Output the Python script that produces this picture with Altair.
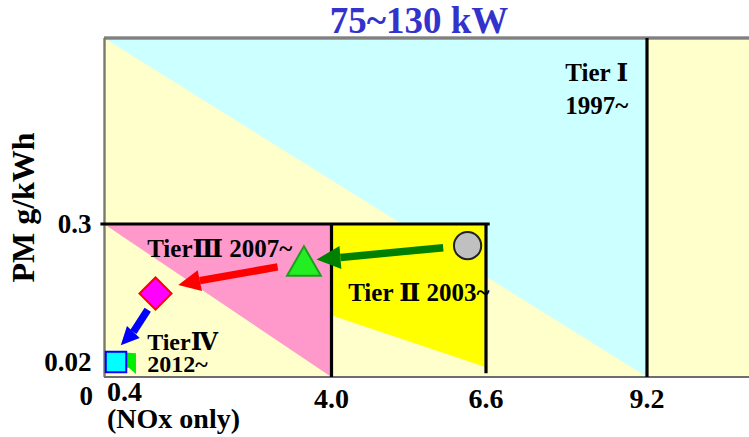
import math
import numpy as np
import pandas as pd
import altair as alt

# ---------------------------------------------------------------
# Axis breakpoints: the NOx and PM axes are drawn piecewise-linear
# ---------------------------------------------------------------
X_BREAKS = [0.0, 0.4, 4.0, 6.6, 9.2, 11.0]
X_PIXELS = [0, 12, 227.5, 382, 543, 645]
Y_BREAKS = [0.0, 0.02, 0.3, 0.54]
Y_PIXELS = [339, 324, 186, 0]

# ---------------- data ----------------
# Regulation regions (NOx from/to, PM lower edge at each end, PM upper edge)
region_names = ["Tier I", "Tier II", "Tier III"]
region_x0 = [0.0, 4.0, 0.0]
region_x1 = [9.2, 6.6, 4.0]
region_lo0 = [0.54, 0.115, 0.3]
region_lo1 = [0.0, 0.013, 0.0]
region_hi = [0.54, 0.3, 0.3]

# Limit lines
line_x0 = [-0.12, 4.0, 6.6, 9.2]
line_x1 = [6.66, 4.0, 6.6, 9.2]
line_y0 = [0.3, 0.0, 0.005, 0.0]
line_y1 = [0.3, 0.3, 0.3, 0.54]

# Emission levels
marker_names = ["tier4_nox", "tier4", "tier3", "tier2", "tier1"]
marker_nox = [0.65, 0.4, 1.06, 3.54, 6.29]
marker_pm = [0.02, 0.02, 0.159, 0.225, 0.256]

# Arrows between levels: tail, neck (head base) and tip
arrow_names = ["tier1_to_2", "tier2_to_3", "tier3_to_4"]
arrow_tail_x = [5.88, 3.10, 0.93]
arrow_tail_y = [0.252, 0.213, 0.126]
arrow_neck_x = [4.15, 1.80, 0.69]
arrow_neck_y = [0.232, 0.185, 0.081]
arrow_tip_x = [3.75, 1.44, 0.48]
arrow_tip_y = [0.228, 0.176, 0.054]

# Annotations (multi-line blocks use "\n"; position is that of the first line)
note_text = ["Tier \u2160\n 1997~", "Tier\u2162 2007~", "Tier \u2161 2003~", "Tier\u2163\n 2012~"]
note_x = [7.88, 0.92, 4.28, 0.92]
note_y = [0.495, 0.249, 0.16, 0.0586]
note_line_height = [33, 25, 25, 22]

# Tick labels
xtick_values = [0.4, 4.0, 6.6, 9.2]
xtick_labels = ["0.4\n(NOx only)", "4.0", "6.6", "9.2"]
ytick_values = [0.02, 0.3]

title_text = "75~130 kW"
ytitle_text = "PM g/kWh"

# ---------------- styles ----------------
FONT = "Liberation Serif, DejaVu Serif"
region_colors = ["#CCFFFF", "#FFFF00", "#FF99CC"]
marker_shapes = [
    "M-1,-0.87 L0.4,-0.77 L0.4,0.97 L-0.17,0.47 L-1,0.47 Z",
    "square", "diamond", "triangle-up", "circle",
]
marker_sizes = [400, 420, 1024, 1150, 740]
marker_fills = ["#00EE00", "#00FFFF", "#FF00FF", "#22EE22", "#C0C0C0"]
marker_strokes = ["#00EE00", "#0000FF", "#FF0000", "#1E9E1E", "#222222"]
arrow_colors = ["#008000", "#FF0000", "#0000FF"]
HEAD_PATH = "M0,0 L0.48,1 L-0.48,1 Z"

xscale = alt.Scale(domain=X_BREAKS, range=X_PIXELS, nice=False, zero=False)
yscale = alt.Scale(domain=Y_BREAKS, range=Y_PIXELS, nice=False, zero=False)
yaxis = alt.Axis(
    values=ytick_values, format=".2~f", title=ytitle_text,
    ticks=False, domain=False, grid=False,
    labelFont=FONT, labelFontSize=27, labelFontWeight="bold", labelColor="black",
    labelPadding=13, labelBaseline="middle",
    titleFont=FONT, titleFontSize=32, titleFontWeight="bold", titleColor="black",
    titleAngle=270, titleAlign="center", titleBaseline="alphabetic",
    titleX=-71, titleY=169,
)


def X(field):
    return alt.X(field, type="quantitative", scale=xscale, axis=None)


def Y(field):
    return alt.Y(field, type="quantitative", scale=yscale, axis=yaxis)


def px_x(v):
    return float(np.interp(v, X_BREAKS, X_PIXELS))


def px_y(v):
    return float(np.interp(v, Y_BREAKS, Y_PIXELS))


# ---------------- tables ----------------
region_layers = []
for i, name in enumerate(region_names):
    df = pd.DataFrame({
        "nox": [region_x0[i], region_x1[i]],
        "pm_lo": [region_lo0[i], region_lo1[i]],
        "pm_hi": [region_hi[i], region_hi[i]],
    })
    region_layers.append(
        alt.Chart(df).mark_area(color=region_colors[i], opacity=1, interpolate="linear")
        .encode(x=X("nox"), y=Y("pm_lo"), y2="pm_hi")
    )

lines_df = pd.DataFrame({"x0": line_x0, "x1": line_x1, "y0": line_y0, "y1": line_y1})

markers_df = pd.DataFrame({
    "marker": marker_names, "nox": marker_nox, "pm": marker_pm,
    "shape": marker_shapes, "size": marker_sizes,
    "fill": marker_fills, "stroke": marker_strokes,
})

angles, head_sizes = [], []
for i in range(len(arrow_names)):
    dx = px_x(arrow_tip_x[i]) - px_x(arrow_neck_x[i])
    dy = px_y(arrow_tip_y[i]) - px_y(arrow_neck_y[i])
    angles.append((math.degrees(math.atan2(dx, -dy)) + 360) % 360)
    head_sizes.append((2 * math.hypot(dx, dy)) ** 2)

arrows_df = pd.DataFrame({
    "arrow": arrow_names,
    "tail_x": arrow_tail_x, "tail_y": arrow_tail_y,
    "neck_x": arrow_neck_x, "neck_y": arrow_neck_y,
    "tip_x": arrow_tip_x, "tip_y": arrow_tip_y,
    "angle": angles, "head_size": head_sizes,
})
arrow_color = alt.Color("arrow:N", scale=alt.Scale(domain=arrow_names, range=arrow_colors), legend=None)

notes_df = pd.DataFrame({"text": note_text, "nox": note_x, "pm": note_y, "lh": note_line_height})
xticks_df = pd.DataFrame({"value": xtick_values, "label": xtick_labels})

# ---------------- layers ----------------
frame_top = alt.Chart(lines_df).mark_rule(color="#808080", strokeWidth=2.5).encode(
    x=alt.value(0), x2=alt.value(645), y=alt.value(0))
frame_left = alt.Chart(lines_df).mark_rule(color="#7a7a6a", strokeWidth=1.5).encode(
    x=alt.value(0.5), y=alt.value(0), y2=alt.value(339))
frame_bottom = alt.Chart(lines_df).mark_rule(color="#6e6e6e", strokeWidth=2).encode(
    x=alt.value(0), x2=alt.value(645), y=alt.value(339))

limits = alt.Chart(lines_df).mark_rule(color="black", strokeWidth=3.2).encode(
    x=X("x0"), x2="x1", y=Y("y0"), y2="y1")

markers = alt.Chart(markers_df).mark_point(filled=True, opacity=1, strokeWidth=2).encode(
    x=X("nox"), y=Y("pm"),
    shape=alt.Shape("shape:N", scale=None),
    size=alt.Size("size:Q", scale=None),
    fill=alt.Fill("fill:N", scale=None),
    stroke=alt.Stroke("stroke:N", scale=None),
)

shafts = alt.Chart(arrows_df).mark_rule(strokeWidth=7.5, strokeCap="butt").encode(
    x=X("tail_x"), y=Y("tail_y"), x2="neck_x", y2="neck_y", color=arrow_color)

heads = alt.Chart(arrows_df).mark_point(shape=HEAD_PATH, filled=True, opacity=1, strokeWidth=0).encode(
    x=X("tip_x"), y=Y("tip_y"),
    angle=alt.Angle("angle:Q", scale=None),
    size=alt.Size("head_size:Q", scale=None),
    color=arrow_color,
)

text_style = dict(font=FONT, fontWeight="bold", color="black")

note_layers = []
for lh in sorted(set(note_line_height)):
    note_layers.append(
        alt.Chart(notes_df).transform_filter(f"datum.lh == {lh}").mark_text(
            align="left", baseline="middle", fontSize=24 if lh < 25 else 25,
            lineBreak="\n", lineHeight=lh, **text_style
        ).encode(x=X("nox"), y=Y("pm"), text="text:N")
    )

xticks_main = alt.Chart(xticks_df).transform_filter("datum.value > 1").mark_text(
    align="center", baseline="alphabetic", fontSize=28, **text_style
).encode(x=X("value"), y=alt.value(370), text="label:N")

xtick_first = alt.Chart(xticks_df).transform_filter("datum.value < 1").mark_text(
    align="left", baseline="alphabetic", fontSize=28, dx=-9, lineBreak="\n", lineHeight=27, **text_style
).encode(x=X("value"), y=alt.value(363), text="label:N")

origin = alt.Chart(xticks_df).transform_filter("datum.value < 1").mark_text(
    align="right", baseline="alphabetic", fontSize=27, **text_style
).encode(x=alt.value(-11), y=alt.value(367), text=alt.value("0"))

title = alt.Chart(xticks_df).transform_filter("datum.value < 1").mark_text(
    align="center", baseline="alphabetic", fontSize=37, font=FONT, fontWeight="bold", color="#3333CC"
).encode(x=alt.value(315), y=alt.value(-5), text=alt.value(title_text))

chart = alt.layer(
    *region_layers,
    frame_top, frame_left, frame_bottom,
    limits, markers, shafts, heads,
    *note_layers, xticks_main, xtick_first, origin, title,
).properties(
    width=645, height=339,
    padding={"left": 104, "top": 38, "right": 0, "bottom": 60},
    autosize=alt.AutoSizeParams(type="none"),
).configure_view(fill="#FFFFCC", stroke="transparent")

chart.save("out.html", embed_options={"renderer": "svg", "actions": False})
